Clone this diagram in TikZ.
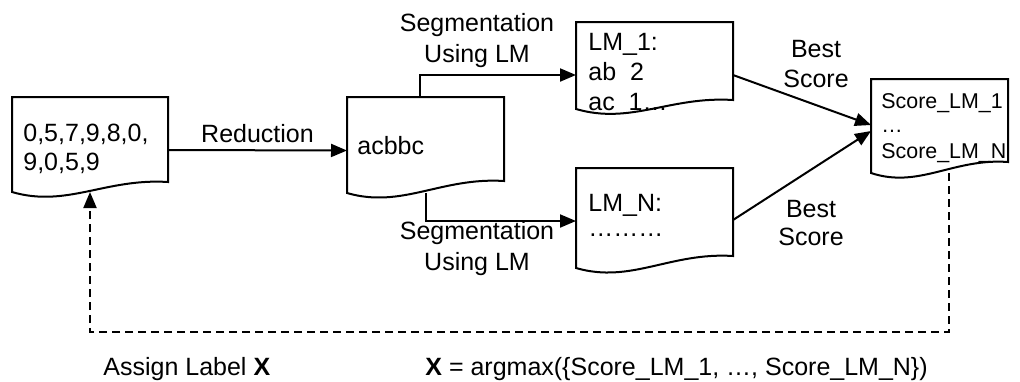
\documentclass[tikz,border=0pt]{standalone}
\usepackage{fontspec}
\setmainfont{Liberation Sans}
\usetikzlibrary{arrows.meta,calc}
\newcommand\docshape[2]{%
  \draw[docline] (#1.south west) -- (#1.north west) -- (#1.north east) -- ($(#1.south east)+(0,-#2)$)
    .. controls ($(#1.south west)!0.6!(#1.south east)+(0,-#2-4)$) and ($(#1.south west)!0.35!(#1.south east)+(0,16)$) .. (#1.south west) -- cycle;}
\begin{document}
\begin{tikzpicture}[x=0.5pt,y=-0.5pt,
  docline/.style={line width=1pt, fill=white, line join=miter},
  docnode/.style={draw=none, inner sep=0pt, outer sep=0pt},
  conn/.style={line width=1pt, -{Triangle[length=8pt,width=6.5pt]}},
  dconn/.style={conn, dash pattern=on 4pt off 2.5pt},
  lbl/.style={inner sep=0pt, anchor=base, font=\fontsize{12.5}{15}\selectfont},
  txt/.style={inner sep=0pt, anchor=base west, font=\fontsize{12.5}{15}\selectfont},
  stxt/.style={inner sep=0pt, anchor=base west, font=\fontsize{10.7}{13}\selectfont},
]
\useasboundingbox (0,0) rectangle (1020,381);

% boxes
\node[docnode, minimum width=78pt, minimum height=47.5pt] (b1) at (90,144.5) {};
\node[docnode, minimum width=78.5pt, minimum height=48pt] (b2) at (425.5,145) {};
\node[docnode, minimum width=78.5pt, minimum height=43.5pt] (lm1) at (654.5,65.5) {};
\node[docnode, minimum width=78.5pt, minimum height=50pt] (lmn) at (654.5,218) {};
\node[docnode, minimum width=68.5pt, minimum height=47pt] (score) at (939.5,126) {};
\docshape{b1}{10}
\docshape{b2}{12}
\docshape{lm1}{9}
\docshape{lmn}{12}
\docshape{score}{11}

% box texts
\node[txt] (t1a) at (23,141) {0,5,7,9,8,0,};
\node[txt] (t1b) at (23,170) {9,0,5,9};
\node[txt] (t2) at (357,154) {acbbc};
\node[txt] (t3a) at (588,50) {LM\_1:};
\node[txt] (t3b) at (588,80) {ab\ \ 2};
\node[txt] (t3c) at (588,110) {ac\ \ 1…};
\node[txt] (t4a) at (588,211) {LM\_N:};
\node[txt] (t4b) at (588,236) {………};
\node[stxt] (t5a) at (881,108) {Score\_LM\_1};
\node[stxt] (t5b) at (881,132) {…};
\node[stxt] (t5c) at (881,158) {Score\_LM\_N};

% connectors
\draw[conn] ([yshift=-2.75pt]b1.east) -- ([yshift=-2.75pt]b2.west);
\draw[conn] ([xshift=-2.75pt]b2.north) |- ([yshift=-4.75pt]lm1.west);
\draw[conn] (b2.south) |- ([yshift=-1.5pt]lmn.west);
\draw[conn] ([yshift=-4.75pt]lm1.east) -- ([yshift=0.5pt]score.west);
\draw[conn] ([yshift=-1pt]lmn.east) -- ([yshift=-2.5pt]score.west);
\coordinate (fb) at (90,332);
\draw[dconn] ([xshift=4.75pt]score.south) |- (fb) -- (b1.south);

% labels
\node[lbl] (red) at (257.5,142) {Reduction};
\node[lbl] (s1a) at (477,31) {Segmentation};
\node[lbl] (s1b) at (477,62) {Using LM};
\node[lbl] (s2a) at (477,239) {Segmentation};
\node[lbl] (s2b) at (477,270) {Using LM};
\node[lbl] (bs1a) at (816,57) {Best};
\node[lbl] (bs1b) at (816,87) {Score};
\node[lbl] (bs2a) at (811,217) {Best};
\node[lbl] (bs2b) at (811,245) {Score};
\node[txt] (asg) at (103,375) {Assign Label \textbf{X}};
\node[txt] (arg) at (425,375) {\textbf{X} = argmax(\{Score\_LM\_1, …, Score\_LM\_N\})};
\end{tikzpicture}
\end{document}
